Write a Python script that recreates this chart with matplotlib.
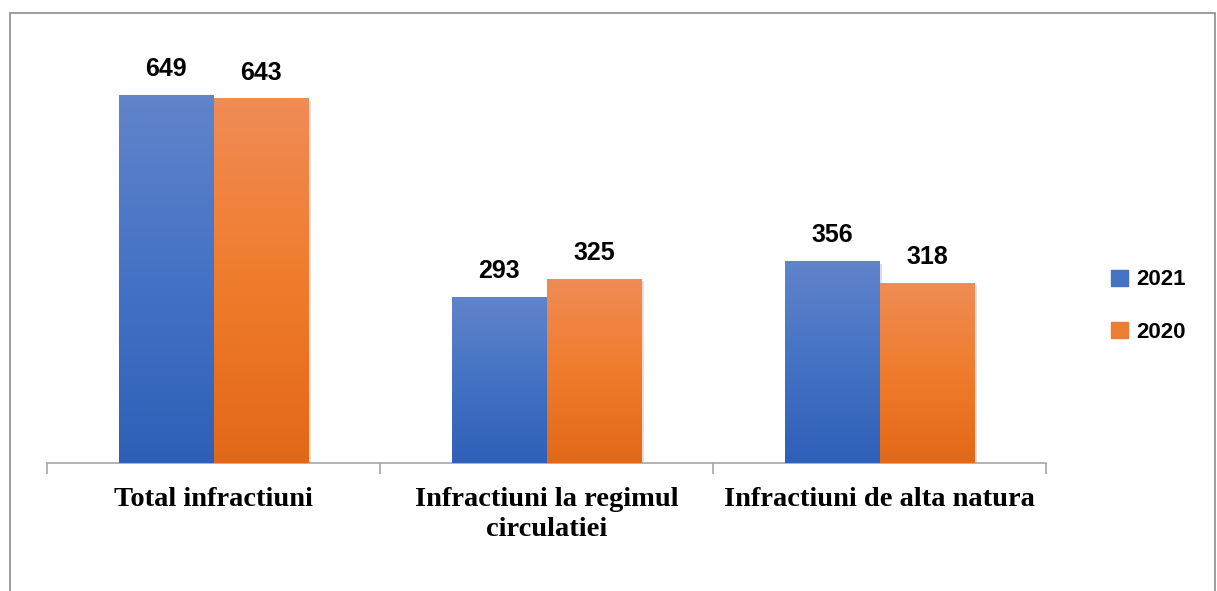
import numpy as np
import matplotlib.pyplot as plt
from matplotlib.patches import Rectangle
from matplotlib.colors import LinearSegmentedColormap
import matplotlib.patheffects as pe

categories = ["Total infractiuni", "Infractiuni la regimul\ncirculatiei", "Infractiuni de alta natura"]
vals_2021 = [649, 293, 356]
vals_2020 = [643, 325, 318]
series = ["2021", "2020"]

blue_grad = LinearSegmentedColormap.from_list("b", ["#2f5fb8", "#4472c4", "#6184cb"])
orange_grad = LinearSegmentedColormap.from_list("o", ["#e26816", "#ef7c2c", "#f08c55"])

fig = plt.figure(figsize=(12.17, 5.91), dpi=100)

# outer frame of the chart object
fig.patches.append(Rectangle((9.5 / 1217, -0.05), 1205.5 / 1217, 1 - 12.5 / 591 + 0.05,
                             transform=fig.transFigure, fill=False,
                             edgecolor="#8c8c8c", linewidth=1.2))

ax = fig.add_axes([47 / 1217, 128 / 591, 999 / 1217, 397 / 591])

x = np.arange(len(categories))
w = 0.285

shadow = [pe.SimplePatchShadow(offset=(2, -2), shadow_rgbFace="#c8c8c8", alpha=0.6), pe.Normal()]

grad = np.linspace(0, 1, 256).reshape(-1, 1)
for vals, off, cmap, mid in [(vals_2021, -w / 2, blue_grad, "#4472c4"),
                             (vals_2020, w / 2, orange_grad, "#ed7d31")]:
    bars = ax.bar(x + off, vals, width=w, color=mid, zorder=2, path_effects=shadow)
    for b, v in zip(bars, vals):
        x0 = b.get_x()
        im = ax.imshow(grad, cmap=cmap, aspect="auto", origin="lower",
                       extent=[x0, x0 + w, 0, v], zorder=3)
        im.set_clip_path(b)
        ax.text(x0 + w / 2, v + 24, str(v), ha="center", va="bottom",
                fontsize=18, fontweight="bold", family="Liberation Sans")

ax.set_xlim(-0.5, 2.5)
ax.set_ylim(0, 700)

for s in ["top", "right", "left"]:
    ax.spines[s].set_visible(False)
ax.spines["bottom"].set_color("#a6a6a6")
ax.spines["bottom"].set_linewidth(1.2)
ax.set_yticks([])

ax.set_xticks(x)
ax.set_xticklabels(categories, fontsize=20.5, fontweight="bold", family="Liberation Serif",
                   linespacing=1.3)
ax.tick_params(axis="x", which="major", length=0, pad=17)
ax.set_xticks([-0.5, 0.5, 1.5, 2.5], minor=True)
ax.tick_params(axis="x", which="minor", length=8, color="#a6a6a6", width=1.2)

handles = [Rectangle((0, 0), 1, 1, color="#4472c4"), Rectangle((0, 0), 1, 1, color="#ed7d31")]
leg = fig.legend(handles, series, loc="center left", bbox_to_anchor=(1091 / 1217, 1 - 306 / 591),
                 frameon=False, prop={"family": "Liberation Sans", "weight": "bold", "size": 16},
                 handlelength=0.75, handleheight=0.75, handletextpad=0.4, labelspacing=1.4)

fig.savefig("out.png", dpi=100)
